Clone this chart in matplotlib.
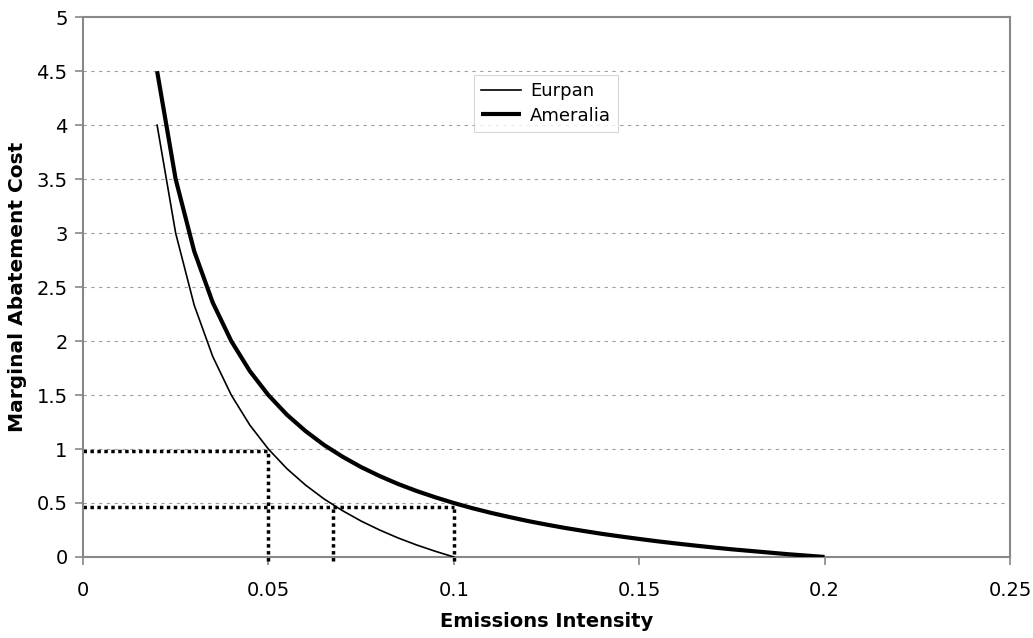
import matplotlib.pyplot as plt

# values
eurpan_x = [0.02, 0.025, 0.03, 0.035, 0.04, 0.045, 0.05, 0.055, 0.06, 0.065,
            0.07, 0.075, 0.08, 0.085, 0.09, 0.095, 0.1]
eurpan_y = [4.0, 3.0, 2.333, 1.857, 1.5, 1.222, 1.0, 0.818, 0.667, 0.538,
            0.429, 0.333, 0.25, 0.176, 0.111, 0.053, 0.0]

ameralia_x = [0.02, 0.025, 0.03, 0.035, 0.04, 0.045, 0.05, 0.055, 0.06, 0.065,
              0.07, 0.075, 0.08, 0.085, 0.09, 0.095, 0.1, 0.105, 0.11, 0.115,
              0.12, 0.125, 0.13, 0.135, 0.14, 0.145, 0.15, 0.155, 0.16, 0.165,
              0.17, 0.175, 0.18, 0.185, 0.19, 0.195, 0.2]
ameralia_y = [4.5, 3.5, 2.833, 2.357, 2.0, 1.722, 1.5, 1.318, 1.167, 1.038,
              0.929, 0.833, 0.75, 0.676, 0.611, 0.553, 0.5, 0.452, 0.409, 0.370,
              0.333, 0.3, 0.269, 0.241, 0.214, 0.190, 0.167, 0.145, 0.125, 0.106,
              0.088, 0.071, 0.056, 0.041, 0.026, 0.013, 0.0]

# dotted guide lines: (x, y) corners
guide_hi = (0.05, 0.98)
guide_lo_x = [0.0675, 0.1]
guide_lo_y = 0.46

xticks = [0, 0.05, 0.1, 0.15, 0.2, 0.25]
yticks = [0, 0.5, 1, 1.5, 2, 2.5, 3, 3.5, 4, 4.5, 5]

plt.rcParams['font.family'] = ['DejaVu Sans']

fig = plt.figure(figsize=(10.33, 6.38), dpi=100)
ax = fig.add_axes([0.0803, 0.127, 0.8974, 0.846])

for y in yticks[1:-1]:
    ax.axhline(y, color='#a0a0a0', lw=0.8, ls=(0, (3, 4)), zorder=1)

dots = dict(color='black', ls=(0, (1, 1)), lw=2.5, zorder=2)
gx, gy = guide_hi
ax.plot([0, gx], [gy, gy], **dots)
ax.plot([gx, gx], [-0.04, gy], clip_on=False, **dots)
ax.plot([0, max(guide_lo_x)], [guide_lo_y, guide_lo_y], **dots)
for gx in guide_lo_x:
    ax.plot([gx, gx], [-0.04, guide_lo_y], clip_on=False, **dots)

ax.plot(eurpan_x, eurpan_y, color='black', lw=1.2, label='Eurpan', zorder=3)
ax.plot(ameralia_x, ameralia_y, color='black', lw=3, label='Ameralia', zorder=3,
        solid_capstyle='butt')

ax.set_xlim(0, 0.25)
ax.set_ylim(0, 5)
ax.set_xticks(xticks)
ax.set_xticklabels([f'{v:g}' for v in xticks])
ax.set_yticks(yticks)
ax.set_yticklabels([f'{v:g}' for v in yticks])

for s in ax.spines.values():
    s.set_color('#888888')
    s.set_linewidth(1.5)
ax.tick_params(direction='out', color='#888888', width=1.2, length=6,
               labelsize=14, pad=5)
ax.tick_params(axis='x', pad=11)

ax.set_xlabel('Emissions Intensity', fontsize=14, fontweight='bold', labelpad=9)
ax.set_ylabel('Marginal Abatement Cost', fontsize=14.5, fontweight='bold', labelpad=7)

leg = ax.legend(loc='upper left', bbox_to_anchor=(0.422, 0.893), fontsize=13,
                frameon=True, fancybox=False, handlelength=2.2, borderaxespad=0,
                borderpad=0.4, labelspacing=0.35, handletextpad=0.5)
leg.get_frame().set_edgecolor('#cccccc')
leg.get_frame().set_linewidth(0.8)

fig.savefig('out.png', dpi=100)
